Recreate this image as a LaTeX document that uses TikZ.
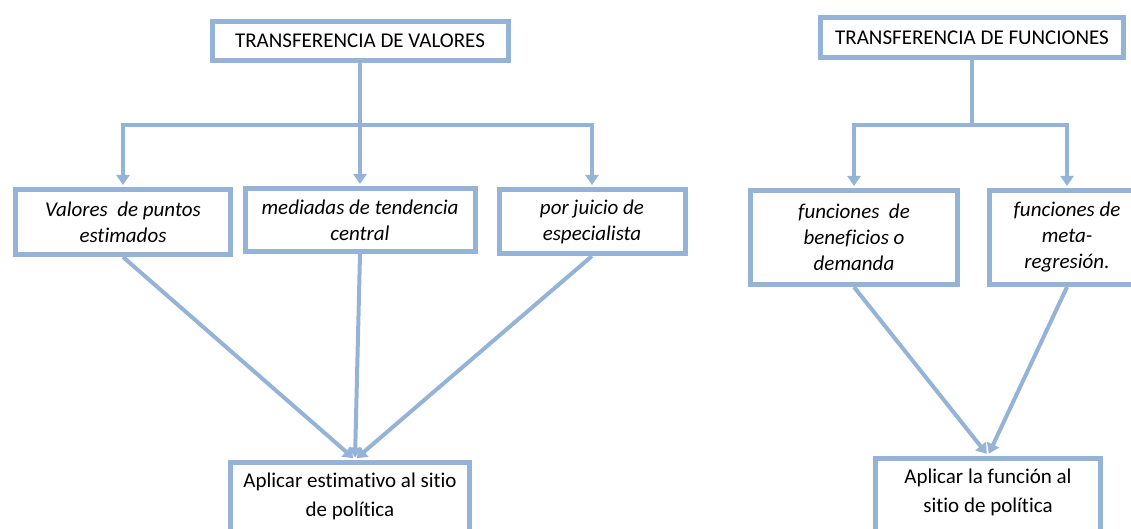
\documentclass[tikz,border=0pt]{standalone}
\usepackage{fontspec}
\setmainfont{Carlito}[Ligatures=CommonOff]
\usetikzlibrary{arrows.meta}
\definecolor{boxblue}{RGB}{149,179,215}

\begin{document}
\begin{tikzpicture}[x=1pt,y=-1pt,
  main node/.style={draw=boxblue,line width=5pt,fill=white,align=center,inner sep=2pt,
    font=\fontsize{21}{29}\selectfont},
  sub node/.style={main node,font=\fontsize{21}{26}\selectfont\itshape},
  end node/.style={main node,minimum height=84pt,text depth=18pt},
  link/.style={draw=boxblue,line width=4pt},
  arrow/.style={link,-{Triangle[width=13pt,length=10pt]},shorten >=2pt}]

  \useasboundingbox (0,0) rectangle (1131,529);

  % transferencia de valores
  \node[main node,minimum width=296pt,minimum height=39pt] (tv) at (360,41) {TRANSFERENCIA DE VALORES};
  \coordinate (sv) at (360,125);
  \node[sub node,minimum width=215pt,minimum height=65pt] (pe) at (123,222) {Valores~ de puntos\\estimados};
  \node[sub node,minimum width=230pt,minimum height=63pt] (tc) at (360,220) {mediadas de tendencia\\central};
  \node[sub node,minimum width=186pt,minimum height=64pt] (je) at (592,221.5) {por juicio de\\especialista};
  \node[end node,minimum width=239pt] (ae) at (350,504) {Aplicar estimativo al sitio\\de política};

  \draw[link] (tv) -- (sv);
  \draw[arrow] (sv) -| (pe);
  \draw[arrow] (sv) -- (tc);
  \draw[arrow] (sv) -| (je);
  \draw[arrow] (pe.south) -- ([xshift=5pt]ae.north);
  \draw[arrow] (tc.south) -- ([xshift=5pt]ae.north);
  \draw[arrow] (je.south) -- ([xshift=5pt]ae.north);

  % transferencia de funciones
  \node[main node,minimum width=303pt,minimum height=40pt] (tf) at (972,37.5) {TRANSFERENCIA DE FUNCIONES};
  \coordinate (sf) at (972,125);
  \node[sub node,minimum width=207pt,minimum height=94pt] (fb) at (854,237.5) {funciones~ de\\beneficios o\\demanda};
  \node[sub node,minimum width=155pt,minimum height=94pt] (fm) at (1067,237.5) {funciones de\\meta-\\regresión.};
  \node[end node,minimum width=225pt] (af) at (988,500) {Aplicar la función al\\sitio de política};

  \draw[link] (tf) -- (sf);
  \draw[arrow] (sf) -| (fb);
  \draw[arrow] (sf) -| (fm);
  \draw[arrow] (fb.south) -- (af.north);
  \draw[arrow] (fm.south) -- (af.north);
\end{tikzpicture}
\end{document}
